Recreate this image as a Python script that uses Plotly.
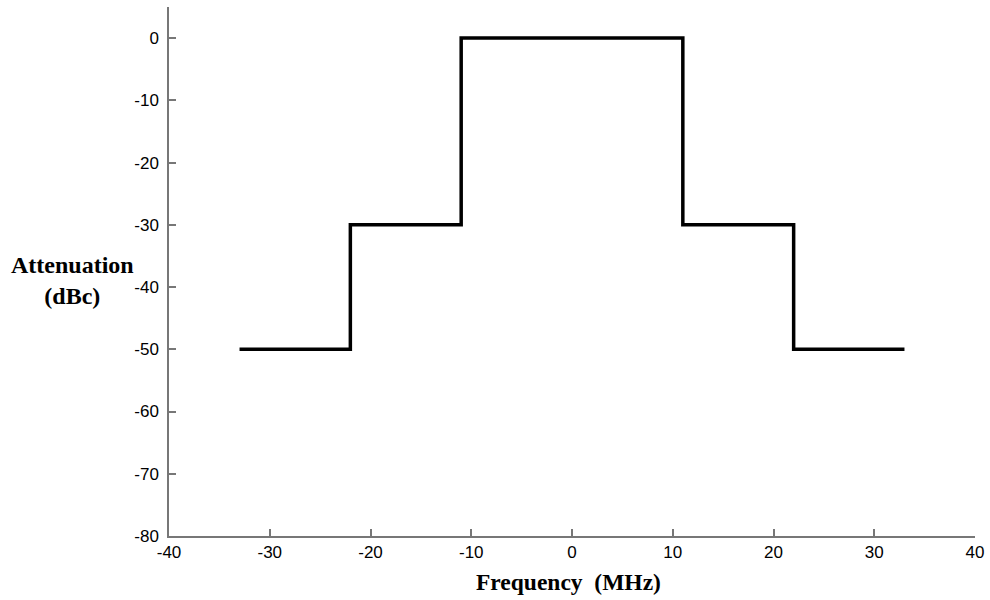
import plotly.graph_objects as go

freq = [-33, -22, -22, -11, -11, 11, 11, 22, 22, 33]
atten = [-50, -50, -30, -30, 0, 0, -30, -30, -50, -50]
x_ticks = [-40, -30, -20, -10, 0, 10, 20, 30, 40]
x_labels = ["-40", "-30", "-20", "-10", "0", "10", "20", "30", "40"]
y_ticks = [0, -10, -20, -30, -40, -50, -60, -70, -80]
y_labels = ["0", "-10", "-20", "-30", "-40", "-50", "-60", "-70", "-80"]

fig = go.Figure()
fig.add_trace(go.Scatter(x=freq, y=atten, mode="lines",
                         line=dict(color="black", width=3.5), showlegend=False))

axis_common = dict(showline=True, linecolor="#777777", linewidth=1.5,
                   ticks="inside", ticklen=7, tickcolor="#777777", tickwidth=1.5,
                   showgrid=False, zeroline=False,
                   tickfont=dict(family="Liberation Sans, Arial", size=17, color="black"))

fig.update_xaxes(range=[-40, 40], tickvals=x_ticks, ticktext=x_labels,
                 ticklabelstandoff=0, **axis_common)
fig.update_yaxes(range=[-80, 5], tickvals=y_ticks, ticktext=y_labels,
                 ticklabelstandoff=5, **axis_common)

fig.add_annotation(text="<b>Frequency  (MHz)</b>", xref="paper", yref="paper",
                   x=(568 - 169) / 806, y=-(582 - 536) / 529, xanchor="center", yanchor="middle",
                   showarrow=False,
                   font=dict(family="Liberation Serif, Times New Roman", size=23.5, color="black"))
fig.add_annotation(text="<b>Attenuation</b><br><b>(dBc)</b>", xref="paper", yref="paper",
                   x=-(169 - 72) / 806, y=(536 - 280) / 529, xanchor="center", yanchor="middle",
                   showarrow=False, align="center",
                   font=dict(family="Liberation Serif, Times New Roman", size=24, color="black"))

fig.update_layout(width=990, height=600, margin=dict(l=169, r=15, t=7, b=64),
                  plot_bgcolor="white", paper_bgcolor="white")

fig.write_html("out.html")
